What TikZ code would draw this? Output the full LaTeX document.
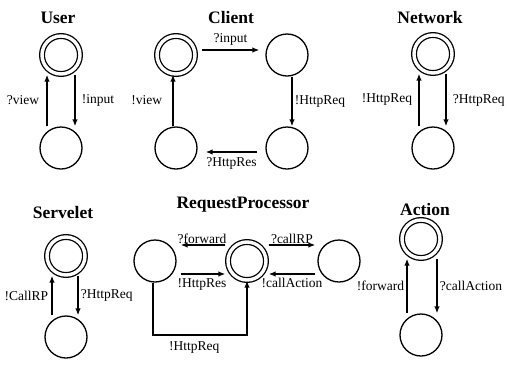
\documentclass[tikz,border=0pt]{standalone}
\usepackage{fontspec}
\setmainfont{Liberation Serif}
\usetikzlibrary{arrows.meta}

\begin{document}
\begin{tikzpicture}[x=1pt, y=-1pt]
    \tikzstyle{state} = [circle, draw, line width=1.3pt, minimum size=42pt, inner sep=0pt]
    \tikzstyle{final} = [state, double, double distance=3.4pt, minimum size=38pt]
    \tikzstyle{trans} = [line width=1.6pt, -{Latex[length=7pt, width=5.5pt]}]
    \tikzstyle{lbl} = [font=\fontsize{13.5}{13.5}\selectfont, inner sep=1pt]
    \tikzstyle{title} = [font=\fontsize{17.5}{17.5}\selectfont\bfseries]
    \useasboundingbox (0,0) rectangle (507,365);

    % User
    \node[title] (tuser) at (58,18) {User};
    \node[final] (u0) at (61,55) {};
    \node[state] (u1) at (61,148) {};
    \draw[trans] ([xshift=-14pt]u1.north) -- ([xshift=-14pt]u0.south) node[lbl, midway, left=6pt] {?view};
    \draw[trans] ([xshift=14pt]u0.south) -- ([xshift=14pt]u1.north) node[lbl, midway, right=5pt] {!input};

    % Client
    \node[title] (tclient) at (231,18) {Client};
    \node[final] (c0) at (176,55) {};
    \node[state] (c1) at (287,55) {};
    \node[state] (c2) at (287,148) {};
    \node[state] (c3) at (176,148) {};
    \draw[trans, shorten <=6pt, shorten >=6pt] ([yshift=5pt]c0.east) -- ([yshift=5pt]c1.west) node[lbl, midway, above=3pt] {?input};
    \draw[trans] ([xshift=5pt]c1.south) -- ([xshift=5pt]c2.north) node[lbl, midway, right=1pt] {!HttpReq};
    \draw[trans, shorten <=8pt, shorten >=8pt] ([yshift=-4pt]c2.west) -- ([yshift=-4pt]c3.east) node[lbl, midway, below=4pt] {?HttpRes};
    \draw[trans] ([xshift=-3pt]c3.north) -- ([xshift=-3pt]c0.south) node[lbl, midway, left=9pt] {!view};

    % Network
    \node[title] (tnet) at (430,18) {Network};
    \node[final] (n0) at (433,54) {};
    \node[state] (n1) at (433,148) {};
    \draw[trans] ([xshift=-14pt]n1.north) -- ([xshift=-14pt]n0.south) node[lbl, midway, left=5pt] {!HttpReq};
    \draw[trans] ([xshift=13pt]n0.south) -- ([xshift=13pt]n1.north) node[lbl, midway, right=5pt] {?HttpReq};

    % Servelet
    \node[title] (tserv) at (63,213) {Servelet};
    \node[final] (s0) at (66,256) {};
    \node[state] (s1) at (66,337) {};
    \draw[trans] ([xshift=-14pt]s1.north) -- ([xshift=-14pt]s0.south) node[lbl, midway, left=2pt] {!CallRP};
    \draw[trans] ([xshift=12pt]s0.south) -- ([xshift=12pt]s1.north) node[lbl, midway, right=1pt] {?HttpReq};

    % RequestProcessor
    \node[title] (trp) at (243,205) {RequestProcessor};
    \node[state] (r0) at (155,261) {};
    \node[final] (r1) at (247,261) {};
    \node[state] (r2) at (339,261) {};
    \coordinate (rpdown) at (153,335);
    \draw[trans, shorten <=2pt, shorten >=4pt] ([yshift=16pt]r1.west) -- ([yshift=16pt]r0.east) node[lbl, midway, above=0pt] {?forward};
    \draw[trans, shorten <=4pt, shorten >=2pt] ([yshift=-13pt]r0.east) -- ([yshift=-13pt]r1.west) node[lbl, midway, below=3pt] {!HttpRes};
    \draw[trans, shorten <=2pt, shorten >=2pt] ([yshift=16pt]r1.east) -- ([yshift=16pt]r2.west) node[lbl, midway, above=0pt] {?callRP};
    \draw[trans, shorten <=2pt, shorten >=2pt] ([yshift=-13pt]r2.west) -- ([yshift=-13pt]r1.east) node[lbl, midway, below=2pt] {!callAction};
    \draw[trans] (r0.south -| rpdown) -- (rpdown) -| (r1.south) node[lbl, pos=0.22, below=5pt] {!HttpReq};

    % Action
    \node[title] (tact) at (425,210) {Action};
    \node[final] (a0) at (421,239) {};
    \node[state] (a1) at (421,335) {};
    \draw[trans] ([xshift=-14pt]a1.north) -- ([xshift=-14pt]a0.south) node[lbl, midway, left=1pt] {!forward};
    \draw[trans] ([xshift=16pt]a0.south) -- ([xshift=16pt]a1.north) node[lbl, midway, right=1pt] {?callAction};
\end{tikzpicture}
\end{document}
